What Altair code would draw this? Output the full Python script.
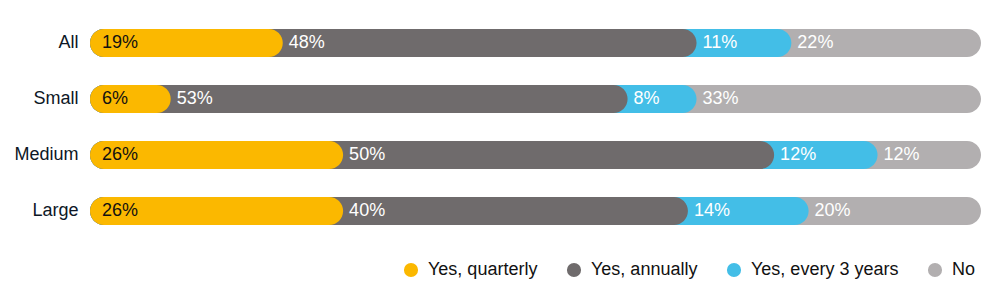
import altair as alt
import pandas as pd

groups = ["All", "Small", "Medium", "Large"]
series = ["Yes, quarterly", "Yes, annually", "Yes, every 3 years", "No"]
quarterly = [19, 6, 26, 26]
annually = [48, 53, 50, 40]
every3 = [11, 8, 12, 14]
no = [22, 33, 12, 20]
colors = ["#FBB800", "#6F6B6C", "#43BEE7", "#B2AFB0"]

LEFT = -3.364  # domain start: rounded left cap extends beyond 0

rows = []
for i, g in enumerate(groups):
    cum = 0
    for s, vals in zip(series, [quarterly, annually, every3, no]):
        v = vals[i]
        rows.append({"group": g, "series": s, "value": v, "start": cum,
                     "end": cum + v, "base": LEFT, "label": f"{v}%"})
        cum += v
df = pd.DataFrame(rows)

FONT = "Liberation Sans"
xscale = alt.Scale(domain=[LEFT, 100], nice=False, zero=False)
yenc = alt.Y("group:N", sort=groups, title=None,
             scale=alt.Scale(paddingInner=0.5, paddingOuter=0.25),
             axis=alt.Axis(ticks=False, domain=False, grid=False, labelFontSize=18,
                           labelPadding=12, labelColor="#0d1726", labelFont=FONT))
color = alt.Color("series:N", scale=alt.Scale(domain=series, range=colors),
                  legend=alt.Legend(title=None, orient="none", direction="horizontal",
                                    legendX=312, legendY=246, symbolType="circle",
                                    symbolSize=200, symbolStrokeWidth=0,
                                    symbolOpacity=1, labelFontSize=18,
                                    labelFont=FONT, labelColor="#111111",
                                    labelOffset=8, columnPadding=27, padding=0))

base = alt.Chart(df)
layers = []
for s in reversed(series):
    layers.append(
        base.transform_filter(alt.datum.series == s).mark_bar(cornerRadius=14).encode(
            x=alt.X("base:Q", scale=xscale, axis=None),
            x2="end:Q",
            y=yenc,
            color=color,
        )
    )

text_first = base.transform_filter(alt.datum.series == series[0]).mark_text(
    align="left", baseline="middle", dx=-17, fontSize=18, font=FONT, color="#111111"
).encode(x=alt.X("start:Q", scale=xscale, axis=None), y=yenc, text="label:N")

text_rest = base.transform_filter(alt.datum.series != series[0]).mark_text(
    align="left", baseline="middle", dx=6, fontSize=18, font=FONT, color="#ffffff"
).encode(x=alt.X("start:Q", scale=xscale, axis=None), y=yenc, text="label:N")

chart = alt.layer(*layers, text_first, text_rest).properties(
    width=891, height=224,
    background="white",
    autosize=alt.AutoSizeParams(type="none"),
    padding={"left": 90, "top": 15, "right": 19, "bottom": 54},
).configure_view(strokeWidth=0, stroke="transparent")

chart.save("out.html", embed_options={"renderer": "svg", "actions": False})
